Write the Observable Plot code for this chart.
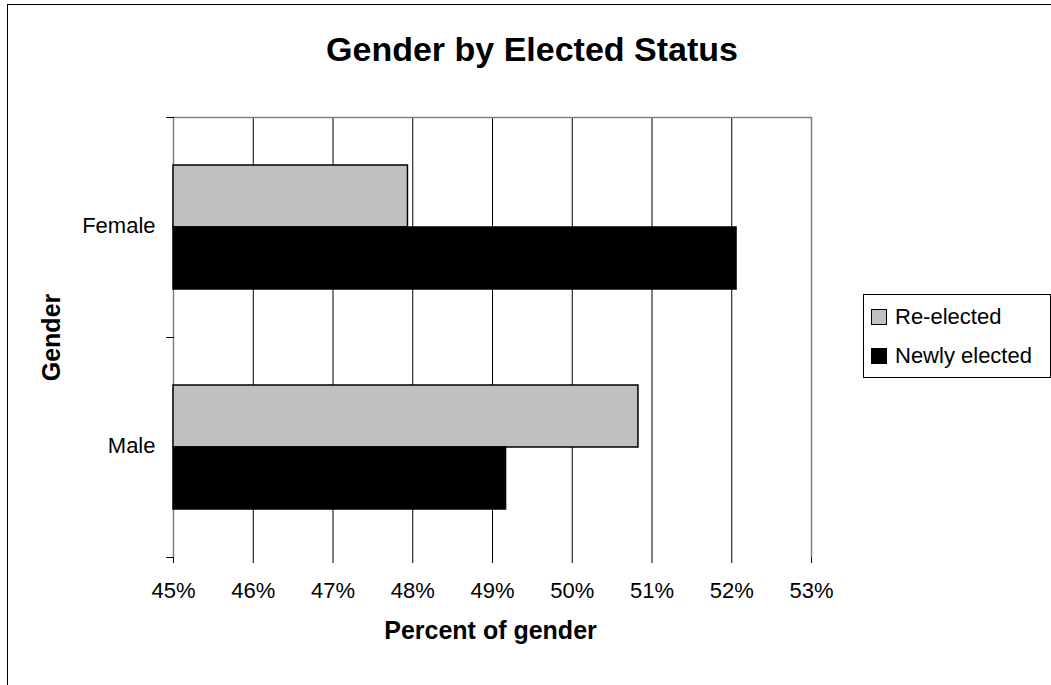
<!DOCTYPE html>
<html>
<head>
<meta charset="utf-8">
<script src="https://cdn.jsdelivr.net/npm/d3@7"></script>
<script src="https://cdn.jsdelivr.net/npm/@observablehq/plot@0.6"></script>
<style>
  html, body { margin: 0; padding: 0; background: #fff; }
  #wrap { position: relative; width: 1051px; height: 685px; overflow: hidden; background: #fff;
          font-family: "Liberation Sans", Arial, sans-serif; color: #000; }
  #outer { position: absolute; left: 7px; top: 4px; width: 1200px; height: 900px;
           border-left: 1px solid #000; border-top: 1px solid #000; box-sizing: border-box; }
  #chart { position: absolute; left: 0; top: 0; }
  #title { position: absolute; left: 232px; width: 600px; top: 32px; text-align: center;
           font-size: 34px; line-height: 34px; font-weight: bold; white-space: nowrap; }
  #legend { position: absolute; left: 863px; top: 294px; width: 188px; height: 84px;
            border: 1px solid #000; box-sizing: border-box; background: #fff; }
  .item { position: absolute; left: 7px; height: 24px; font-size: 22px; line-height: 24px; white-space: nowrap; }
  .sw { position: absolute; left: 0; top: 4px; width: 16px; height: 16px; box-sizing: border-box; border: 1.5px solid #000; }
  .lbl { position: absolute; left: 24px; top: 0; }
</style>
</head>
<body>
<div id="wrap">
  <div id="outer"></div>
  <div id="chart"></div>
  <div id="title"></div>
  <div id="legend"></div>
</div>
<script>
// ---- data ----
const genders = ["Female", "Male"];
const statuses = ["Re-elected", "Newly elected"];
const reElected = [0.4794, 0.5083];
const newlyElected = [0.5206, 0.4917];
const xTicks = [0.45, 0.46, 0.47, 0.48, 0.49, 0.50, 0.51, 0.52, 0.53];
const statusColors = ["#C0C0C0", "#000000"];
const titleText = "Gender by Elected Status";
const xLabel = "Percent of gender";
const yLabel = "Gender";

const rows = genders.flatMap((g, i) => [
  {gender: g, status: statuses[0], value: reElected[i]},
  {gender: g, status: statuses[1], value: newlyElected[i]}
]);
const xMin = xTicks[0], xMax = xTicks[xTicks.length - 1];

const chart = Plot.plot({
  width: 1051,
  height: 685,
  marginLeft: 173,
  marginRight: 240,
  marginTop: 116,
  marginBottom: 128,
  style: {fontFamily: '"Liberation Sans", Arial, sans-serif', fontSize: "22px", color: "#000", background: "transparent", overflow: "visible"},
  x: {domain: [xMin, xMax], axis: null},
  y: {domain: statuses, axis: null, paddingInner: 0, paddingOuter: 0.764},
  fy: {domain: genders, padding: 0, axis: null},
  color: {domain: statuses, range: statusColors},
  marks: [
    Plot.ruleX(xTicks.slice(1, -1), {stroke: "#000", strokeWidth: 1}),
    Plot.ruleX([xMax], {stroke: "#808080", strokeWidth: 1.5}),
    Plot.ruleX([xMin], {stroke: "#808080", strokeWidth: 1.5}),
    Plot.frame({anchor: "top", facetAnchor: "top", stroke: "#808080", strokeWidth: 1.5}),
    Plot.barX(rows, {fy: "gender", y: "status", x1: () => xMin, x2: "value", fill: "status", stroke: "#000", strokeWidth: 1.5}),
    Plot.axisX({ticks: xTicks, tickFormat: d3.format(".0%"), tickSize: 6, tickPadding: 19, label: null, stroke: "#000", fill: "#000", fontSize: 22, line: true}),
    Plot.axisFy({anchor: "left", tickSize: 0, tickPadding: 18, label: null, fill: "#000", fontSize: 22, dy: -2}),
    Plot.vector(genders, {fy: d => d, frameAnchor: "top-left", length: 7, rotate: -90, anchor: "start", shape: "spike", r: 0, stroke: "#000", strokeWidth: 1}),
    Plot.vector([genders[genders.length - 1]], {fy: d => d, frameAnchor: "bottom-left", length: 7, rotate: -90, anchor: "start", shape: "spike", r: 0, stroke: "#000", strokeWidth: 1}),
    Plot.text([xLabel], {fy: () => genders[genders.length - 1], frameAnchor: "bottom", text: d => d, dx: -2, dy: 81, fontWeight: "bold", fontSize: 25, fill: "#000"}),
    Plot.text([yLabel], {fy: () => genders[0], frameAnchor: "bottom-left", textAnchor: "middle", text: d => d, dx: -114, rotate: -90, fontWeight: "bold", fontSize: 25, fill: "#000"})
  ]
});
document.getElementById("chart").appendChild(chart);
document.getElementById("title").textContent = titleText;

// legend
const legend = document.getElementById("legend");
statuses.forEach((s, i) => {
  const item = document.createElement("div");
  item.className = "item";
  item.style.top = (10 + i * 39) + "px";
  const sw = document.createElement("div");
  sw.className = "sw";
  sw.style.background = statusColors[i];
  const lbl = document.createElement("div");
  lbl.className = "lbl";
  lbl.textContent = s;
  item.appendChild(sw);
  item.appendChild(lbl);
  legend.appendChild(item);
});
</script>
</body>
</html>
